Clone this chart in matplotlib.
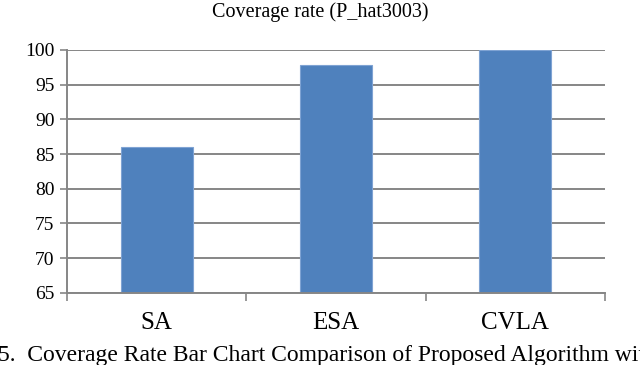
import matplotlib
matplotlib.use("Agg")
import matplotlib.pyplot as plt
from matplotlib.ticker import FixedLocator

categories = ["SA", "ESA", "CVLA"]
coverage = [86.0, 97.8, 100.0]
yticks = [65, 70, 75, 80, 85, 90, 95, 100]

title = "Coverage rate (P_hat3003)"
caption = "5.  Coverage Rate Bar Chart Comparison of Proposed Algorithm with"

plt.rcParams['font.family'] = ['Liberation Serif', 'DejaVu Serif']

fig = plt.figure(figsize=(6.4, 3.65), dpi=100)
ax = fig.add_axes([67/640, 1 - 292.7/365, (605-67)/640, (292.7-50)/365])

grid_c = "#868686"
x = list(range(len(categories)))
ax.bar(x, coverage, width=0.40, color="#4F81BD", edgecolor="#7FA3D3",
       linewidth=0.8, zorder=2)

ax.set_xlim(-0.5, len(categories) - 0.5)
ax.set_ylim(65, 100)
ax.set_yticks(yticks)
ax.yaxis.grid(True, color=grid_c, linewidth=1.4, zorder=1)
ax.set_axisbelow(True)

ax.set_xticks(x)
ax.set_xticklabels(categories, fontsize=18)
ax.xaxis.set_minor_locator(FixedLocator([i - 0.5 for i in range(len(categories) + 1)]))
ax.tick_params(axis='x', which='major', length=0, pad=14)
ax.tick_params(axis='x', which='minor', length=6, width=1.2, color=grid_c)
ax.tick_params(axis='y', length=5, width=1.2, color=grid_c, labelsize=14, pad=4)

for s in ['top', 'right']:
    ax.spines[s].set_visible(False)
for s in ['left', 'bottom']:
    ax.spines[s].set_color(grid_c)
    ax.spines[s].set_linewidth(1.4)

fig.text(320/640, 1 - 12/365, title, ha='center', va='center', fontsize=14.5)
fig.text(-2/640, 1 - 356/365, caption, ha='left', va='center', fontsize=17)

fig.savefig("out.png", dpi=100)
